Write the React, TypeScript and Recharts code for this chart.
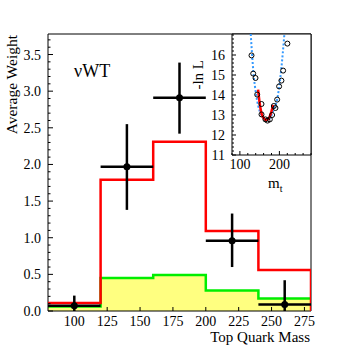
import React from 'react'
import { ComposedChart, Line, Area, Scatter, ErrorBar, XAxis, YAxis, ReferenceArea, Label } from 'recharts'

const FONT = '"Liberation Serif", "DejaVu Serif", "Times New Roman", serif'

// main histogram
const BIN_EDGES = [80, 120, 160, 200, 240, 280]
const SIGNAL = [0.11, 1.79, 2.31, 1.09, 0.56]
const BACKGROUND = [0.06, 0.45, 0.49, 0.28, 0.17]
const DATA_X = [100, 140, 180, 220, 260]
const DATA_Y = [0.07, 1.97, 2.91, 0.96, 0.09]
const DATA_ERR_LO = [0.07, 0.59, 0.49, 0.36, 0.09]
const DATA_ERR_HI = [0.14, 0.58, 0.48, 0.37, 0.33]
const BIN_HALF = 20
const X_TICKS = [100, 125, 150, 175, 200, 225, 250, 275]
const Y_LABELS = [0, 0.5, 1, 1.5, 2, 2.5, 3, 3.5]
const Y_MAX = 3.78

// inset: -ln L scan
const SCAN_MT = [129.4, 133.7, 139.5, 143.8, 154.7, 154.7, 164.7, 169.8, 175.8, 181.6, 185.9, 190, 194.3, 199.3, 205.1, 209.4, 220.2]
const SCAN_LNL = [15.98, 15.07, 14.85, 14.02, 13.55, 13.03, 12.78, 12.72, 12.78, 13.0, 13.45, 13.35, 13.77, 14.43, 14.72, 15.22, 16.57]
const FIT_MT = [146, 150, 154.7, 160, 166, 172, 178, 184]
const FIT_LNL = [14.27, 13.6, 13.08, 12.85, 12.75, 12.8, 13.05, 13.5]
const WIDE_MT = [127.4, 134, 142, 150, 160, 168, 178, 186, 195, 205, 212, 212.6]
const WIDE_LNL = [17.05, 15.2, 13.9, 13.2, 12.85, 12.75, 12.9, 13.3, 13.85, 15.35, 16.9, 17.05]
const INSET_X_LABELS = [100, 200]
const INSET_Y_LABELS = [11, 12, 13, 14, 15, 16]
const INSET_Y_MAX = 17.05

function stepData(vals: number[], closeRight: boolean) {
  const pts = vals.map((v, i) => ({ x: BIN_EDGES[i], y: v }))
  pts.push({ x: BIN_EDGES[vals.length], y: vals[vals.length - 1] })
  if (closeRight) pts.push({ x: BIN_EDGES[vals.length], y: 0 })
  return pts
}

const signalData = stepData(SIGNAL, true)
const bgData = stepData(BACKGROUND, false)
const points = DATA_X.map((x, i) => ({
  x,
  y: DATA_Y[i],
  ex: BIN_HALF,
  ey: [DATA_ERR_LO[i], DATA_ERR_HI[i]],
}))

const scan = SCAN_MT.map((x, i) => ({ x, y: SCAN_LNL[i] }))
const fit = FIT_MT.map((x, i) => ({ x, y: FIT_LNL[i] }))
const wide = WIDE_MT.map((x, i) => ({ x, y: WIDE_LNL[i] }))

// minor tick positions
const yMinor: number[] = []
for (let i = 0; i <= 37; i++) yMinor.push(Math.round(i * 10) / 100)
const insetYMinor: number[] = []
for (let i = 0; i <= 30; i++) insetYMinor.push(Math.round((11 + i * 0.2) * 10) / 10)
const insetXMinor = [80, 100, 120, 140, 160, 180, 200, 220, 240, 260, 280]

const isOn = (v: number, list: number[]) => list.some((l) => Math.abs(l - v) < 1e-6)

function MainXTick({ x, y, payload }: any) {
  return (
    <g>
      <line x1={x} x2={x} y1={y} y2={y - 4} stroke="#000" />
      <text x={x} y={y + 15} textAnchor="middle" fontSize={14} fontFamily={FONT} fill="#000">
        {payload.value}
      </text>
    </g>
  )
}

function MainYTick({ x, y, payload }: any) {
  const major = isOn(payload.value, Y_LABELS)
  return (
    <g>
      <line x1={x} x2={x + (major ? 5 : 2.5)} y1={y} y2={y} stroke="#000" />
      {major && (
        <text x={x - 7} y={y + 5} textAnchor="end" fontSize={14} fontFamily={FONT} fill="#000">
          {payload.value.toFixed(1)}
        </text>
      )}
    </g>
  )
}

function InsetXTick({ x, y, payload }: any) {
  const major = isOn(payload.value, INSET_X_LABELS)
  return (
    <g>
      <line x1={x} x2={x} y1={y} y2={y - (major ? 4 : 2)} stroke="#000" />
      {major && (
        <text x={x} y={y + 14} textAnchor="middle" fontSize={14} fontFamily={FONT} fill="#000">
          {payload.value}
        </text>
      )}
    </g>
  )
}

function InsetYTick({ x, y, payload }: any) {
  const major = isOn(payload.value, INSET_Y_LABELS)
  return (
    <g>
      <line x1={x} x2={x + (major ? 4 : 2)} y1={y} y2={y} stroke="#000" />
      {major && (
        <text x={x - 7} y={y + 5} textAnchor="end" fontSize={14} fontFamily={FONT} fill="#000">
          {payload.value}
        </text>
      )}
    </g>
  )
}

export default function App() {
  return (
    <div style={{ position: 'absolute', left: 0, top: 0, width: 346, height: 346, background: '#fff' }}>
      <ComposedChart width={346} height={346} margin={{ top: 34, right: 35, bottom: 0, left: 0 }}>
        <XAxis
          dataKey="x"
          type="number"
          domain={[80, 280]}
          allowDataOverflow
          ticks={X_TICKS}
          interval={0}
          height={35}
          tickSize={0}
          tickMargin={0}
          tickLine={false}
          axisLine={false}
          tick={<MainXTick />}
        >
          <Label
            content={() => (
              <text x={310} y={342} textAnchor="end" fontSize={15} fontFamily={FONT} fill="#000">
                Top Quark Mass
              </text>
            )}
          />
        </XAxis>
        <YAxis
          dataKey="y"
          type="number"
          domain={[0, Y_MAX]}
          allowDataOverflow
          ticks={yMinor}
          interval={0}
          width={48}
          tickSize={0}
          tickMargin={0}
          tickLine={false}
          axisLine={false}
          tick={<MainYTick />}
        >
          <Label
            content={() => (
              <g>
                <text
                  transform="translate(17,35) rotate(-90)"
                  textAnchor="end"
                  fontSize={15.5}
                  fontFamily={FONT}
                  fill="#000"
                >
                  Average Weight
                </text>
                <text x={74} y={77} fontSize={18} fontFamily={FONT} fill="#000">
                  νWT
                </text>
              </g>
            )}
          />
        </YAxis>
        <Area
          data={bgData}
          dataKey="y"
          type="stepAfter"
          stroke="#00ee00"
          strokeWidth={2.5}
          fill="#ffff80"
          fillOpacity={1}
          isAnimationActive={false}
          dot={false}
          activeDot={false}
        />
        <Line
          data={signalData}
          dataKey="y"
          type="stepAfter"
          stroke="#ff0000"
          strokeWidth={2.5}
          dot={false}
          activeDot={false}
          isAnimationActive={false}
        />
        <Scatter
          data={points}
          dataKey="y"
          isAnimationActive={false}
          shape={(p: any) => <circle cx={p.cx} cy={p.cy} r={3.5} fill="#000" />}
        >
          <ErrorBar dataKey="ex" direction="x" width={0} stroke="#000" strokeWidth={2.5} isAnimationActive={false} />
          <ErrorBar dataKey="ey" direction="y" width={0} stroke="#000" strokeWidth={2.5} isAnimationActive={false} />
        </Scatter>
        <ReferenceArea x1={80} x2={280} y1={0} y2={Y_MAX} fill="none" stroke="#000" strokeWidth={1} ifOverflow="visible" />
      </ComposedChart>

      <div style={{ position: 'absolute', left: 185, top: 30 }}>
        <ComposedChart width={130} height={165} margin={{ top: 4, right: 4, bottom: 15, left: 0 }}>
          <XAxis
            dataKey="x"
            type="number"
            domain={[80, 280]}
            allowDataOverflow
            ticks={insetXMinor}
            interval={0}
            height={25}
            tickSize={0}
            tickMargin={0}
            tickLine={false}
            axisLine={false}
            tick={<InsetXTick />}
          >
            <Label
              content={() => (
                <text x={83} y={158} fontSize={15} fontFamily={FONT} fill="#000">
                  m<tspan fontSize={10} dy={4}>t</tspan>
                </text>
              )}
            />
          </XAxis>
          <YAxis
            dataKey="y"
            type="number"
            domain={[11, INSET_Y_MAX]}
            allowDataOverflow
            ticks={insetYMinor}
            interval={0}
            width={47}
            tickSize={0}
            tickMargin={0}
            tickLine={false}
            axisLine={false}
            tick={<InsetYTick />}
          >
            <Label
              content={() => (
                <text
                  transform="translate(18,30) rotate(-90)"
                  textAnchor="end"
                  fontSize={15}
                  fontFamily={FONT}
                  fill="#000"
                >
                  -ln L
                </text>
              )}
            />
          </YAxis>
          <ReferenceArea x1={80} x2={280} y1={11} y2={INSET_Y_MAX} fill="#fff" fillOpacity={1} stroke="#000" strokeWidth={1} ifOverflow="visible" />
          <Line
            data={wide}
            dataKey="y"
            type="monotone"
            stroke="#3399ff"
            strokeWidth={2}
            strokeDasharray="2 2"
            dot={false}
            activeDot={false}
            isAnimationActive={false}
          />
          <Line
            data={fit}
            dataKey="y"
            type="monotone"
            stroke="#ff0000"
            strokeWidth={2.5}
            dot={false}
            activeDot={false}
            isAnimationActive={false}
          />
          <Scatter
            data={scan}
            dataKey="y"
            isAnimationActive={false}
            shape={(p: any) => <circle cx={p.cx} cy={p.cy} r={2.5} fill="none" stroke="#000" strokeWidth={1} />}
          />
        </ComposedChart>
      </div>
    </div>
  )
}
